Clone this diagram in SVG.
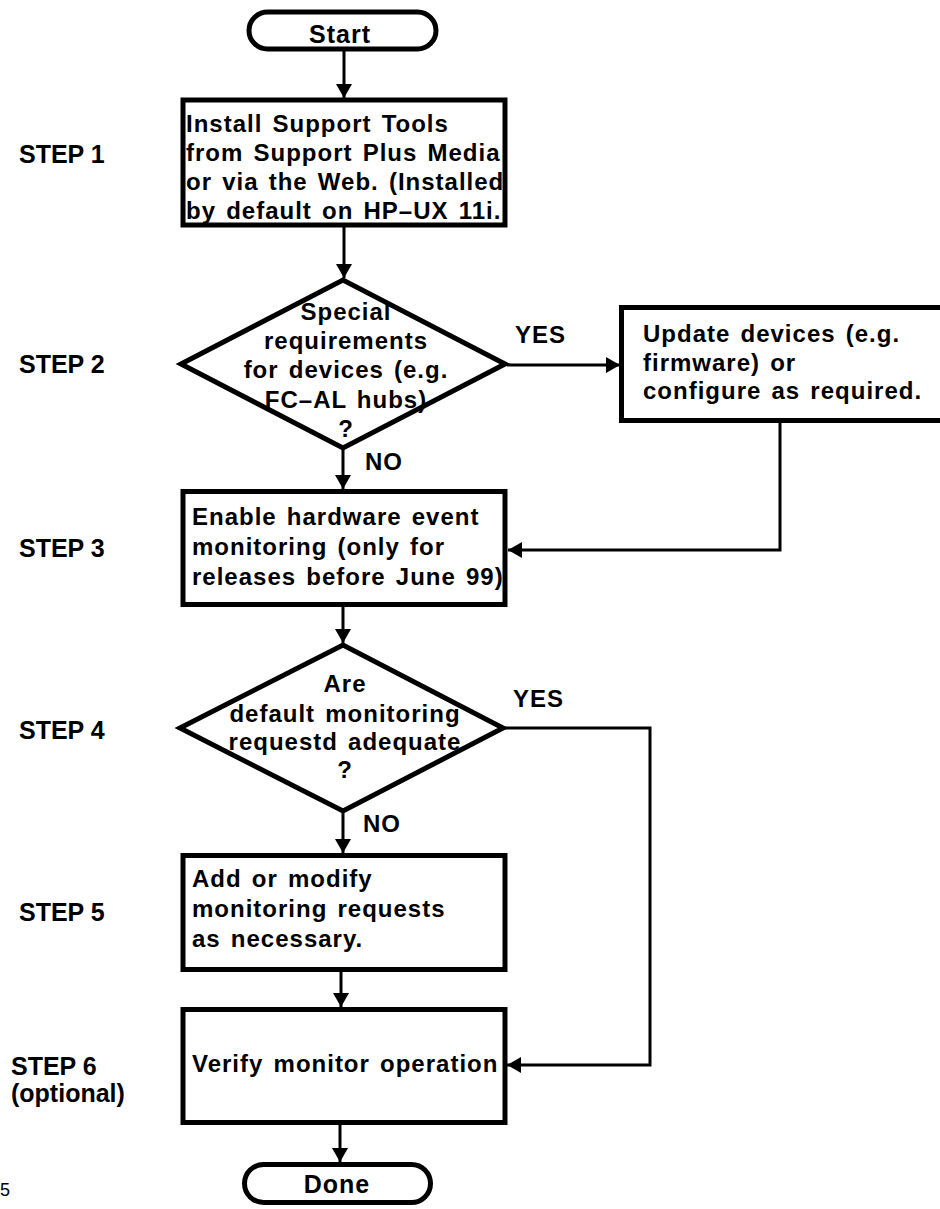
<svg xmlns="http://www.w3.org/2000/svg" width="940" height="1209" viewBox="0 0 940 1209">
<style>
.box{fill:#fff;stroke:#000;stroke-width:5}
.t{font-family:"Liberation Sans",Arial,sans-serif;font-weight:bold;font-size:24px;letter-spacing:1px;word-spacing:2.5px;fill:#000}
.m{text-anchor:middle}
.step{font-family:"Liberation Sans",Arial,sans-serif;font-weight:bold;font-size:25px;fill:#000}
.c{fill:none;stroke:#000;stroke-width:3}
</style>
<defs>
<marker id="ah" markerUnits="userSpaceOnUse" markerWidth="14" markerHeight="16" refX="14" refY="8" orient="auto">
<path d="M0,0 L14,8 L0,16 z" fill="#000"/>
</marker>
</defs>
<rect width="940" height="1209" fill="#fff"/>

<g id="labels">
<text class="step" x="19" y="163">STEP 1</text>
<text class="step" x="19" y="373">STEP 2</text>
<text class="step" x="19" y="557">STEP 3</text>
<text class="step" x="19" y="739">STEP 4</text>
<text class="step" x="19" y="921">STEP 5</text>
<text class="step" x="11" y="1075">STEP 6</text>
<text class="step" x="11" y="1102">(optional)</text>
<text x="0" y="1196" style="font-family:'Liberation Sans',Arial,sans-serif;font-size:18px">5</text>
</g>

<g id="start">
<rect class="box" x="249" y="12" width="187" height="37" rx="18.5"/>
<text class="t m" x="340" y="43" style="font-size:25px;letter-spacing:1px">Start</text>
</g>

<g id="install">
<rect class="box" x="183" y="100" width="322" height="125"/>
<text class="t" x="186" y="132">Install Support Tools</text>
<text class="t" x="186" y="161">from Support Plus Media</text>
<text class="t" x="186" y="190">or via the Web. (Installed</text>
<text class="t" x="186" y="219">by default on HP–UX 11i.</text>
</g>

<g id="special">
<polygon class="box" points="181,364 343,280 505,364 343,448"/>
<text class="t m" x="346" y="320">Special</text>
<text class="t m" x="346" y="349">requirements</text>
<text class="t m" x="346" y="378">for devices (e.g.</text>
<text class="t m" x="346" y="408">FC–AL hubs)</text>
<text class="t m" x="346" y="437">?</text>
</g>

<g id="update">
<rect class="box" x="621.5" y="307.5" width="330" height="113"/>
<text class="t" x="643" y="342">Update devices (e.g.</text>
<text class="t" x="643" y="370.5">firmware) or</text>
<text class="t" x="643" y="399">configure as required.</text>
</g>

<g id="enable">
<rect class="box" x="183" y="491.5" width="322" height="113"/>
<text class="t" x="192" y="525">Enable hardware event</text>
<text class="t" x="192" y="555">monitoring (only for</text>
<text class="t" x="192" y="585">releases before June 99)</text>
</g>

<g id="adequate">
<polygon class="box" points="180,728 343,645 503,728 343,811"/>
<text class="t m" x="345" y="692">Are</text>
<text class="t m" x="345" y="722">default monitoring</text>
<text class="t m" x="345" y="750">requestd adequate</text>
<text class="t m" x="345" y="778">?</text>
</g>

<g id="add">
<rect class="box" x="183" y="855.5" width="322" height="114"/>
<text class="t" x="192" y="887">Add or modify</text>
<text class="t" x="192" y="917">monitoring requests</text>
<text class="t" x="192" y="947">as necessary.</text>
</g>

<g id="verify">
<rect class="box" x="183" y="1009.5" width="322" height="113"/>
<text class="t" x="192" y="1072">Verify monitor operation</text>
</g>

<g id="done">
<rect class="box" x="244.5" y="1164.5" width="186" height="38" rx="19"/>
<text class="t m" x="337" y="1193" style="font-size:25px;letter-spacing:1px">Done</text>
</g>

<g id="connectors">
<path class="c" d="M344,50 V98" marker-end="url(#ah)"/>
<path class="c" d="M344,227 V278" marker-end="url(#ah)"/>
<path class="c" d="M507,365 H620" marker-end="url(#ah)"/>
<path class="c" d="M343,450 V489" marker-end="url(#ah)"/>
<path class="c" d="M780,422 V550 H508" marker-end="url(#ah)"/>
<path class="c" d="M343,607 V643" marker-end="url(#ah)"/>
<path class="c" d="M505,728 H650 V1065 H507" marker-end="url(#ah)"/>
<path class="c" d="M343,813 V853" marker-end="url(#ah)"/>
<path class="c" d="M341,970 V1007" marker-end="url(#ah)"/>
<path class="c" d="M340,1124 V1162" marker-end="url(#ah)"/>
<text class="t" x="515" y="343">YES</text>
<text class="t" x="365" y="470">NO</text>
<text class="t" x="513" y="707">YES</text>
<text class="t" x="363" y="832">NO</text>
</g>
</svg>
